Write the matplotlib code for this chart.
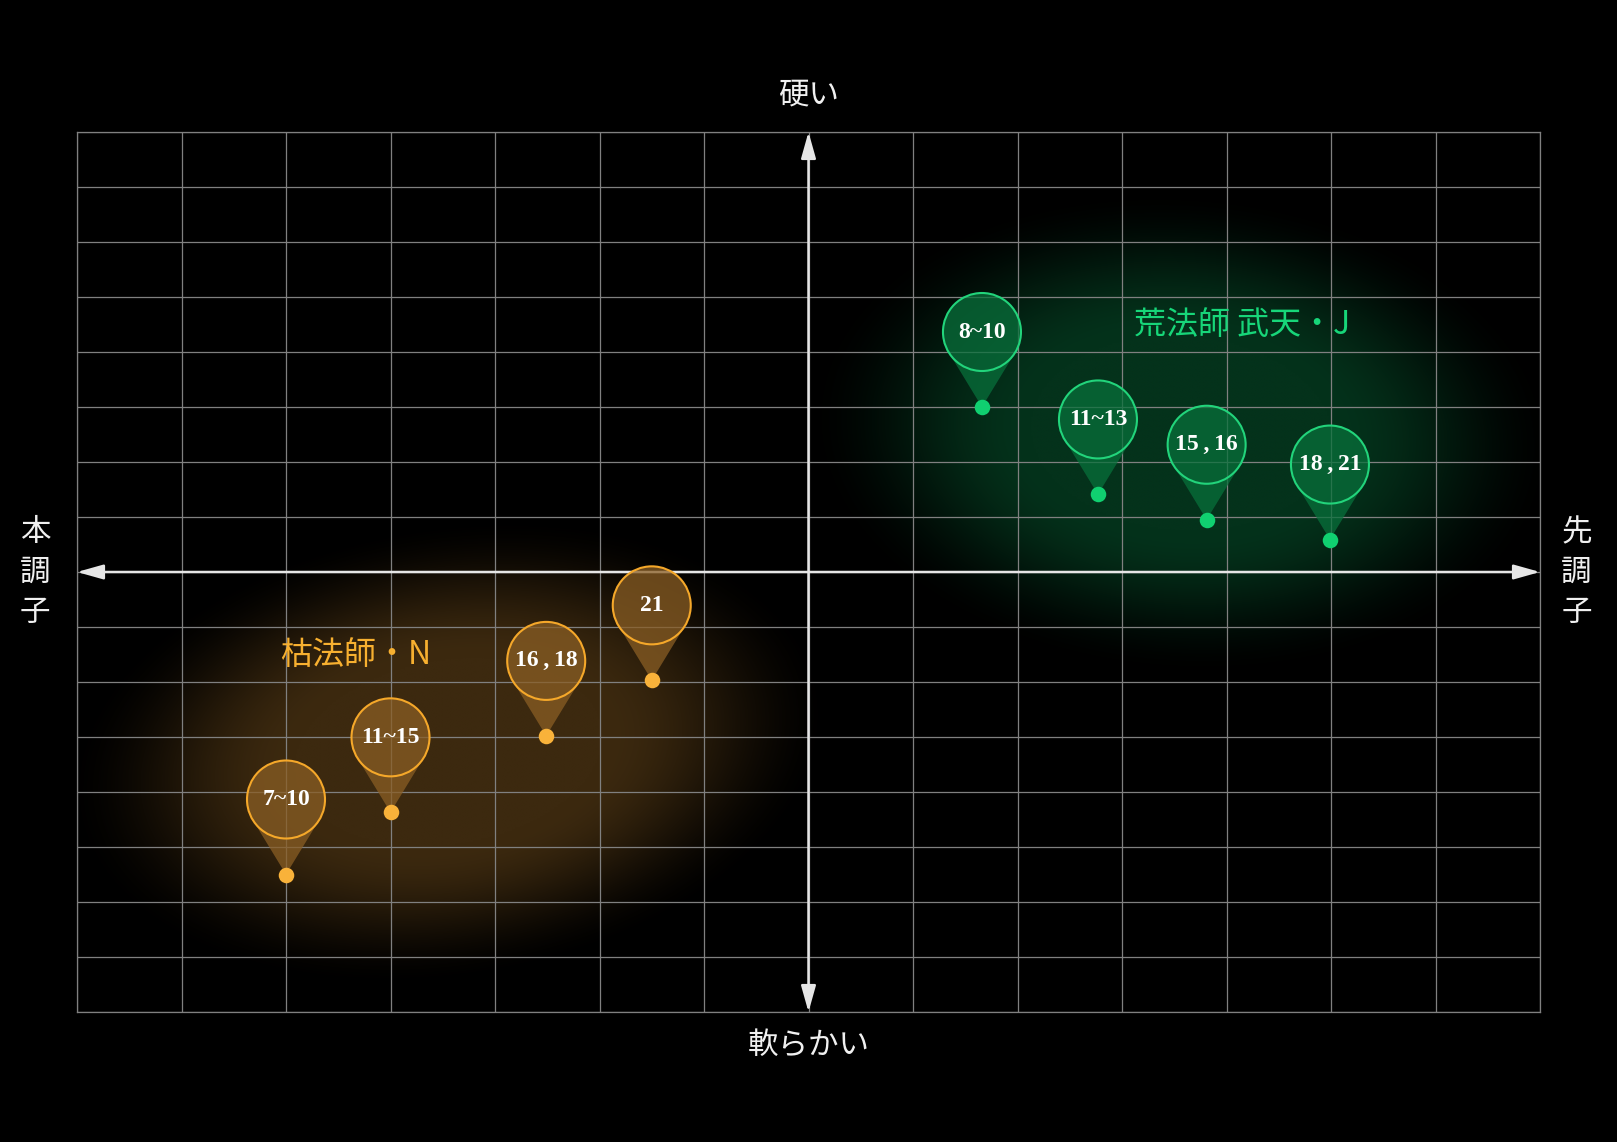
import numpy as np
import matplotlib.pyplot as plt
from matplotlib.patches import Polygon, Ellipse

plt.rcParams['font.family'] = ['Noto Sans CJK JP', 'DejaVu Sans']

# データ
j_labels = ['8~10', '11~13', '15\u2009,\u200916', '18\u2009,\u200921']
j_x = [1.66, 2.77, 3.81, 4.99]
j_y = [3.0, 1.41, 0.95, 0.59]

n_labels = ['7~10', '11~15', '16\u2009,\u200918', '21']
n_x = [-5.0, -4.0, -2.51, -1.5]
n_y = [-5.5, -4.37, -2.98, -1.97]

group_names = ['荒法師 武天・J', '枯法師・N']
axis_top = '硬い'
axis_bottom = '軟らかい'
axis_left = '本調子'
axis_right = '先調子'

W, H = 1617, 1142
fig = plt.figure(figsize=(W / 100, H / 100), dpi=100, facecolor='black')
L, R, T, B = 77, 1540, 132, 1012
ax = fig.add_axes([L / W, 1 - B / H, (R - L) / W, (B - T) / H])
ax.set_facecolor('black')
ax.set_xlim(-7, 7)
ax.set_ylim(-8, 8)
sx = (R - L) / 14  # px par unité
sy = (B - T) / 16


def glow(cx, cy, a, b, ang, rgb):
    xs = np.linspace(-7, 7, 900)
    ys = np.linspace(-8, 8, 560)
    X, Y = np.meshgrid(xs, ys)
    dx = (X - cx) * sx
    dy = (Y - cy) * sy
    t = np.radians(ang)
    u = dx * np.cos(t) + dy * np.sin(t)
    v = -dx * np.sin(t) + dy * np.cos(t)
    r = np.sqrt((u / a) ** 2 + (v / b) ** 2)
    k = np.clip((1 - r) / 0.6, 0, 1)
    k = k * k * (3 - 2 * k)
    return k[..., None] * np.array(rgb) / 255.0


img = glow(3.57, 2.53, 380, 245, -4, (4, 50, 27)) + glow(-3.45, -3.28, 390, 232, 9, (60, 41, 15))
ax.imshow(np.clip(img, 0, 1), extent=(-7, 7, -8, 8), origin='lower',
          aspect='auto', interpolation='bilinear', zorder=0)

# grille
ax.set_xticks(range(-7, 8))
ax.set_yticks(range(-8, 9))
ax.grid(color='#808080', lw=0.9)
ax.set_axisbelow(True)
ax.tick_params(length=0, labelbottom=False, labelleft=False)
for s in ax.spines.values():
    s.set_color('#808080')
    s.set_linewidth(0.9)

# axes avec flèches
arrow = dict(arrowstyle='<|-|>,head_length=1.6,head_width=0.45', mutation_scale=10,
             color='#e6e6e6', lw=1.8, shrinkA=0, shrinkB=0)
ax.annotate('', xy=(7, 0), xytext=(-7, 0), arrowprops=arrow)
ax.annotate('', xy=(0, 8), xytext=(0, -8), arrowprops=arrow)


def pin(x, y, label, face, edge):
    r = 39.0
    d = 75.0
    cx, cy = x, y + d / sy
    th = np.arccos(r / d)
    angs = np.linspace(-np.pi / 2 + th, 3 * np.pi / 2 - th, 90)
    pts = [(x, y)] + [(cx + r * np.cos(a) / sx, cy + r * np.sin(a) / sy) for a in angs]
    ax.add_patch(Polygon(pts, closed=True, facecolor=face, edgecolor='none', zorder=3))
    ax.add_patch(Ellipse((cx, cy), 2 * r / sx, 2 * r / sy, fill=False,
                         edgecolor=edge, lw=1.5, zorder=4))
    ax.text(cx, cy, label, ha='center', va='center', color='white',
            fontsize=17, weight='bold', family=['Liberation Serif', 'DejaVu Serif'],
            zorder=5)


for x, y, lab in zip(j_x, j_y, j_labels):
    pin(x, y, lab, (0.03, 0.44, 0.23, 0.75), '#22d47b')
ax.scatter(j_x, j_y, s=125, color='#10d070', zorder=6, linewidths=0)

for x, y, lab in zip(n_x, n_y, n_labels):
    pin(x, y, lab, (0.54, 0.37, 0.14, 0.75), '#f5a82a')
ax.scatter(n_x, n_y, s=125, color='#f9b23a', zorder=6, linewidths=0)

ax.text(4.15, 4.49, group_names[0], color='#17d679', fontsize=23,
        ha='center', va='center', zorder=5)
ax.text(-4.33, -1.51, group_names[1], color='#f7b030', fontsize=23,
        ha='center', va='center', zorder=5)

# libellés des axes
ax.text(0, 8.67, axis_top, color='#f0f0f0', fontsize=22, ha='center', va='center',
        clip_on=False)
ax.text(0, -8.62, axis_bottom, color='#f0f0f0', fontsize=22, ha='center', va='center',
        clip_on=False)
offs = [0.71, 0.0, -0.73]
for ch, dy in zip(axis_left, offs):
    ax.text(-7.40, dy, ch, color='#f0f0f0', fontsize=22, ha='center', va='center',
            clip_on=False)
for ch, dy in zip(axis_right, offs):
    ax.text(7.35, dy, ch, color='#f0f0f0', fontsize=22, ha='center', va='center',
            clip_on=False)

plt.savefig('out.png', dpi=100, facecolor='black')
